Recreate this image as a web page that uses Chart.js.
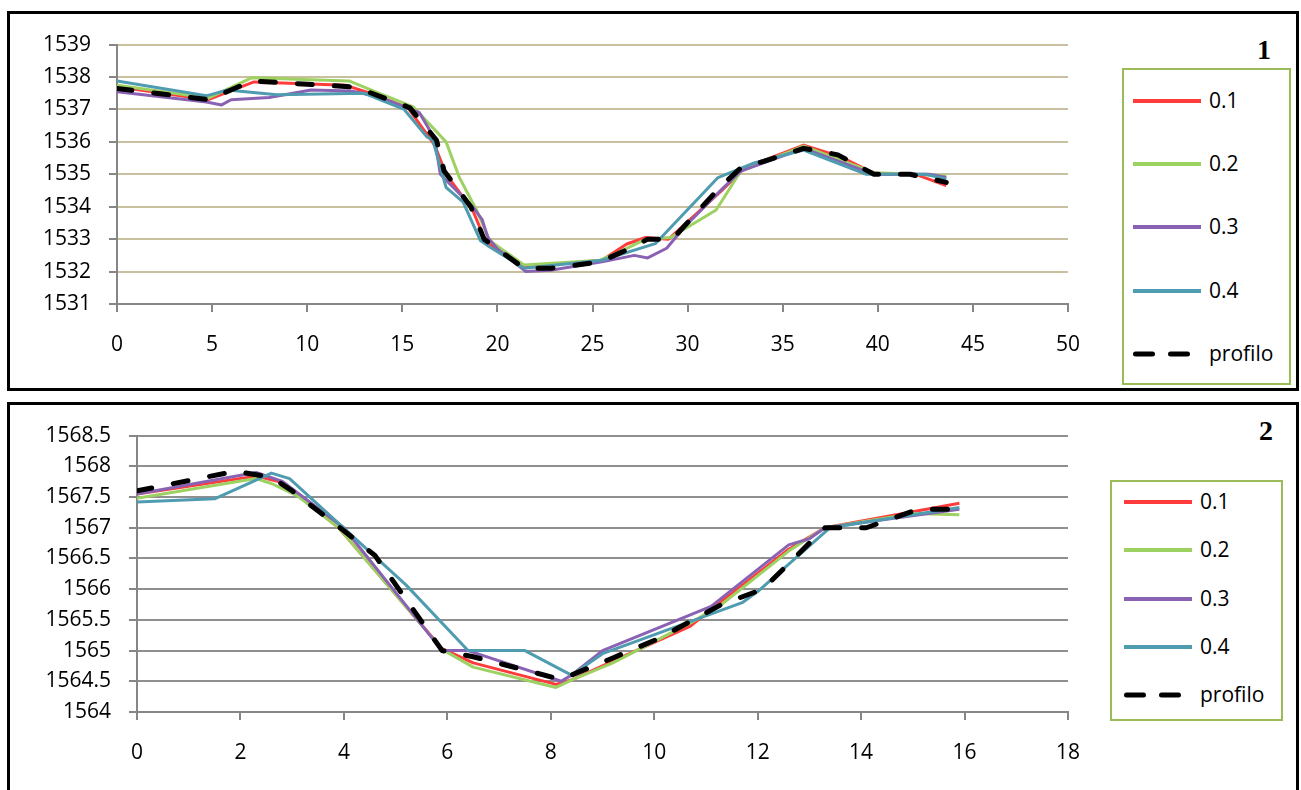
<!DOCTYPE html>
<html>
<head>
<meta charset="utf-8">
<script src="https://cdn.jsdelivr.net/npm/chart.js@4.4.1/dist/chart.umd.min.js"></script>
<style>
  body { margin: 0; background: #fff; width: 1301px; height: 790px; overflow: hidden; position: relative; font-family: "Open Sans", sans-serif; }
  .box { position: absolute; border: 3px solid #000; box-sizing: border-box; background: #fff; }
  .wrap { position: absolute; }
  .legend { position: absolute; border: 2px solid #9bbb59; box-sizing: border-box; }
  .item { position: absolute; left: 0; height: 24px; line-height: 24px; font-size: 21px; color: #000; white-space: nowrap; }
  .item svg { position: absolute; top: 0; }
  .item span { position: absolute; top: -1px; }
  .tag { position: absolute; font-family: "Liberation Serif", serif; font-weight: bold; font-size: 28px; line-height: 28px; }
</style>
</head>
<body>

<div class="box" style="left:7px; top:11px; width:1292px; height:380px;"></div>
<div class="box" style="left:7px; top:402px; width:1292px; height:420px;"></div>

<div class="wrap" style="left:10px; top:14px;"><canvas id="chart1" width="1100" height="373"></canvas></div>
<div class="wrap" style="left:10px; top:405px;"><canvas id="chart2" width="1100" height="385"></canvas></div>

<div id="legend1" class="legend" style="left:1122px; top:68px; width:169px; height:317px;"></div>
<div id="legend2" class="legend" style="left:1110px; top:480px; width:173px; height:241px;"></div>

<div class="tag" style="left:1257px; top:36px;">1</div>
<div class="tag" style="left:1259px; top:417px;">2</div>

<script>
// ==================== DATI: SEZIONE 1 ====================
// [distanza, quota]
const c1_01 = [[0,1537.7],[4.8,1537.3],[7.2,1537.85],[12,1537.75],[13.3,1537.5],[15.3,1537.05],[16.7,1535.9],[17.3,1535.0],[18.7,1533.9],[19.4,1532.9],[21.5,1532.15],[25.5,1532.35],[26.8,1532.85],[27.8,1533.05],[29,1533.0],[31.8,1534.5],[33,1535.2],[36.1,1535.9],[38,1535.55],[39.9,1535.0],[42,1535.0],[43.6,1534.65]];
const c1_02 = [[0,1537.75],[4.8,1537.35],[7.1,1537.98],[12.2,1537.88],[13.7,1537.52],[15.6,1537.07],[17.3,1536.0],[18.0,1534.9],[18.9,1533.9],[19.6,1532.95],[21.4,1532.2],[25.4,1532.35],[26.4,1532.6],[27.8,1533.0],[29.1,1533.05],[31.5,1533.9],[32.8,1535.1],[36.1,1535.87],[39.8,1535.05],[42,1535.0],[43.6,1534.95]];
const c1_03 = [[0,1537.55],[4.7,1537.23],[5.5,1537.14],[6.0,1537.3],[8.0,1537.37],[10.2,1537.6],[12.3,1537.57],[13.7,1537.4],[15.9,1536.9],[16.7,1536.1],[17.0,1535.0],[17.5,1534.7],[18.7,1534.0],[19.2,1533.6],[19.5,1533.05],[20.0,1532.7],[21.5,1532.0],[22.8,1532.04],[25.5,1532.3],[27.2,1532.5],[27.9,1532.42],[28.9,1532.72],[29.8,1533.35],[31.9,1534.6],[32.8,1535.1],[36.1,1535.8],[39.8,1535.0],[42.7,1535.0],[43.6,1534.9]];
const c1_04 = [[0,1537.88],[4.7,1537.42],[5.8,1537.6],[8.4,1537.45],[13,1537.5],[15.1,1537.0],[16.3,1536.15],[16.6,1536.06],[17.3,1534.6],[18.2,1534.14],[19.1,1532.96],[19.6,1532.76],[21.4,1532.1],[25.5,1532.35],[28.3,1532.86],[31.6,1534.9],[33.5,1535.35],[36.1,1535.75],[39.4,1535.0],[42.5,1535.0],[43.6,1534.85]];
const c1_profilo = [[0,1537.65],[4.8,1537.3],[7.1,1537.88],[12.2,1537.7],[13.3,1537.52],[15.4,1537.05],[16.8,1536.05],[17.2,1535.1],[18.6,1534.0],[19.3,1533.0],[21.4,1532.1],[22.8,1532.1],[25.4,1532.3],[27.1,1532.75],[27.9,1533.0],[29.2,1533.0],[31.7,1534.6],[32.8,1535.2],[34.0,1535.4],[36.1,1535.8],[37.9,1535.6],[39.8,1535.0],[41.7,1535.0],[43.6,1534.75]];

// ==================== DATI: SEZIONE 2 ====================
const c2_01 = [[0,1567.55],[2.3,1567.84],[2.8,1567.74],[3.9,1567.0],[5.9,1565.03],[6.5,1564.8],[8.1,1564.45],[8.4,1564.52],[9.2,1564.83],[10.7,1565.4],[11.3,1565.8],[12.6,1566.65],[13.3,1567.0],[15.9,1567.4]];
const c2_02 = [[0,1567.48],[2.3,1567.8],[2.6,1567.72],[3.1,1567.52],[3.9,1567.0],[5.9,1565.02],[6.5,1564.73],[8.1,1564.4],[8.4,1564.52],[9.2,1564.8],[10.7,1565.45],[11.3,1565.75],[12.6,1566.62],[13.3,1567.0],[15.0,1567.23],[15.9,1567.21]];
const c2_03 = [[0,1567.55],[2.3,1567.9],[2.8,1567.76],[4.0,1567.0],[5.9,1565.0],[6.4,1565.0],[8.2,1564.5],[8.4,1564.6],[9.0,1565.0],[11.1,1565.72],[12.6,1566.72],[13.0,1566.82],[13.3,1567.0],[15.9,1567.3]];
const c2_04 = [[0,1567.42],[1.5,1567.47],[2.6,1567.89],[2.95,1567.8],[5.2,1566.07],[6.4,1565.0],[7.5,1565.0],[8.4,1564.6],[9.0,1564.95],[11.7,1565.78],[12.0,1565.96],[13.4,1567.0],[15.9,1567.33]];
const c2_profilo = [[0,1567.6],[1.9,1567.92],[2.6,1567.82],[3.0,1567.6],[4.0,1566.95],[4.6,1566.55],[5.9,1565.0],[6.5,1564.9],[8.2,1564.53],[9.2,1564.88],[10.1,1565.2],[11.3,1565.75],[12.1,1566.0],[13.3,1567.0],[14.1,1567.0],[15.1,1567.3],[15.8,1567.3]];

// nomi e colori delle serie
const seriesNames = ["0.1", "0.2", "0.3", "0.4", "profilo"];
const seriesColors = ["#ff3b3b", "#9dd262", "#8a62b4", "#4f9bb0", "#000000"];

// assi
const c1_xTicks = [0, 50, 5];
const c1_yTicks = [1531, 1539, 1];
const c2_xTicks = [0, 18, 2];
const c2_yTicks = [1564, 1568.5, 0.5];
// ============================================================

const tickFont = { family: "Open Sans", size: 21 };
const axisGray = "#868686";

function toPoints(arr) {
    return arr.map(p => ({ x: p[0], y: p[1] }));
}

function makeDatasets(list) {
    return list.map((arr, i) => {
        const isProf = i === 4;
        return {
            label: seriesNames[i],
            data: toPoints(arr),
            showLine: true,
            borderColor: seriesColors[i],
            backgroundColor: seriesColors[i],
            borderWidth: isProf ? 5 : 3,
            borderDash: isProf ? [15, 22] : [],
            borderCapStyle: isProf ? "round" : "butt",
            borderJoinStyle: "round",
            pointRadius: 0,
            order: isProf ? 0 : 4 - i + 1
        };
    });
}

function makeOptions(cfg) {
    return {
        responsive: false,
        animation: false,
        layout: { padding: { top: cfg.padTop, right: 42, bottom: 0, left: 0 } },
        plugins: { legend: { display: false }, tooltip: { enabled: false } },
        scales: {
            x: {
                type: "linear",
                min: cfg.xT[0], max: cfg.xT[1],
                ticks: { stepSize: cfg.xT[2], color: "#000", font: tickFont, padding: 20, maxRotation: 0, autoSkip: false, callback: v => String(v) },
                grid: { drawOnChartArea: false, drawTicks: true, tickLength: 8, color: axisGray, lineWidth: 2 },
                border: { color: axisGray, width: 2 },
                afterFit: s => { s.height = cfg.xHeight; }
            },
            y: {
                type: "linear",
                min: cfg.yT[0], max: cfg.yT[1],
                ticks: { stepSize: cfg.yT[2], color: "#000", font: tickFont, padding: 18, callback: v => String(v) },
                grid: {
                    color: c => (c.tick && c.tick.value === cfg.yT[0]) ? "rgba(0,0,0,0)" : cfg.gridColor,
                    lineWidth: 2, tickColor: axisGray, tickLength: 8
                },
                border: { color: axisGray, width: 2 },
                afterFit: s => { s.width = cfg.yWidth; }
            }
        }
    };
}

new Chart(document.getElementById("chart1"), {
    type: "scatter",
    data: { datasets: makeDatasets([c1_01, c1_02, c1_03, c1_04, c1_profilo]) },
    options: makeOptions({ xT: c1_xTicks, yT: c1_yTicks, gridColor: "#c8c09f", padTop: 29, xHeight: 83, yWidth: 107 })
});

new Chart(document.getElementById("chart2"), {
    type: "scatter",
    data: { datasets: makeDatasets([c2_01, c2_02, c2_03, c2_04, c2_profilo]) },
    options: makeOptions({ xT: c2_xTicks, yT: c2_yTicks, gridColor: "#8f8f8f", padTop: 28, xHeight: 78, yWidth: 127 })
});

// ==================== LEGENDA HTML ====================
function buildLegend(id, firstY, stepY, lineX, textX) {
    const box = document.getElementById(id);
    seriesNames.forEach((name, i) => {
        const item = document.createElement("div");
        item.className = "item";
        item.style.top = (firstY + i * stepY - 12) + "px";
        item.style.width = "100%";
        const isProf = i === 4;
        const line = isProf
            ? `<line x1="2.5" y1="12" x2="60" y2="12" stroke="#000" stroke-width="5" stroke-linecap="round" stroke-dasharray="17 18"/>`
            : `<line x1="0" y1="12" x2="68" y2="12" stroke="${seriesColors[i]}" stroke-width="4"/>`;
        item.innerHTML = `<svg width="72" height="24" style="left:${lineX}px">${line}</svg><span style="left:${textX}px">${name}</span>`;
        box.appendChild(item);
    });
}

buildLegend("legend1", 31, 63.2, 9, 85);
buildLegend("legend2", 20, 48.3, 12, 88);
</script>
</body>
</html>
